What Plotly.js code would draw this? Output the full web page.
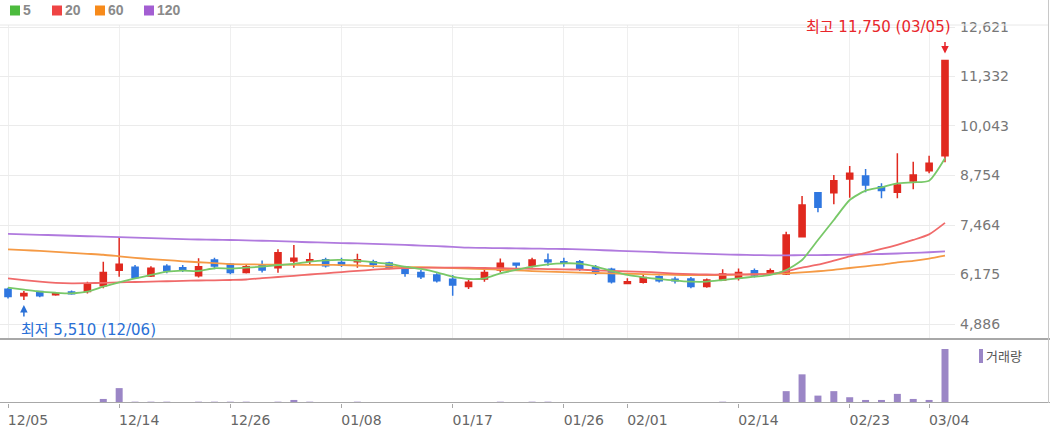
<!DOCTYPE html>
<html><head><meta charset="utf-8">
<script src="https://cdn.plot.ly/plotly-3.0.1.min.js"></script>
<style>html,body{margin:0;padding:0;background:#fff;}#chart{width:1050px;height:434px;}</style>
</head><body><div id="chart"></div>
<script>
const dates = ['12/05','12/06','12/07','12/08','12/11','12/12','12/13','12/14','12/15','12/18','12/19','12/20','12/21','12/22','12/26','12/27','12/28',
'01/02','01/03','01/04','01/05','01/08','01/09','01/10','01/11','01/12','01/15','01/16','01/17','01/18','01/19','01/22','01/23','01/24','01/25','01/26','01/29','01/30','01/31',
'02/01','02/02','02/05','02/06','02/07','02/08','02/13','02/14','02/15','02/16','02/19','02/20','02/21','02/22','02/23','02/26','02/27','02/28','02/29','03/04','03/05'];
const openP  = [5790,5625,5730,5650,5720,5730,5880,6285,6365,6135,6390,6350,6145,6555,6440,6225,6420,6350,6530,6520,6560,6485,6510,6510,6475,6380,6230,6165,6050,5860,6060,6293,6470,6405,6555,6510,6510,6355,6310,5940,5975,6120,6050,6060,5860,6030,6080,6275,6225,6190,7160,8307,8307,8663,8741,8463,8317,8611,8880,9270];
const highP  = [5830,5745,5740,5720,5760,5990,6510,7135,6420,6390,6440,6420,6600,6610,6470,6420,6540,6830,6944,6745,6610,6610,6715,6560,6510,6380,6290,6210,6165,6030,6320,6590,6470,6610,6720,6610,6555,6420,6350,6080,6165,6150,6120,6110,6070,6310,6330,6330,6330,7290,8220,8307,8767,9000,8923,8550,9332,9113,9270,11750];
const lowP   = [5550,5510,5580,5625,5650,5680,5820,6120,6060,6110,6210,6240,6095,6310,6180,6200,6230,6220,6350,6423,6360,6370,6350,6350,6310,6120,6060,5970,5625,5800,5985,6230,6340,6360,6405,6380,6270,6165,5940,5925,5940,5970,5940,5820,5830,6015,6020,6100,6165,6165,7145,7795,8005,8175,8317,8160,8160,8395,8810,9100];
const closeP = [5600,5680,5625,5680,5675,5920,6230,6440,6095,6340,6275,6310,6380,6400,6225,6380,6295,6745,6600,6560,6405,6425,6560,6440,6365,6210,6120,6010,5900,5975,6230,6470,6425,6555,6510,6470,6310,6250,5990,5990,6095,6010,6010,5860,6030,6190,6230,6165,6275,7205,7985,7925,8620,8810,8507,8360,8507,8767,9070,11750];
const ma5   = [5832,5780,5728,5700,5686,5728,5858,5973,6077,6163,6249,6275,6267,6338,6330,6353,6380,6423,6450,6510,6546,6554,6536,6494,6450,6380,6320,6233,6119,6059,6077,6207,6293,6380,6441,6467,6458,6380,6267,6163,6103,6059,6016,5990,5990,6033,6077,6119,6163,6293,6554,7074,7595,8116,8358,8447,8551,8577,8619,9202];
const ma20  = [6077,6030,5990,5960,5947,5950,5960,5973,5980,5990,6000,6010,6020,6025,6033,6045,6080,6110,6140,6175,6205,6240,6270,6300,6325,6340,6350,6355,6355,6353,6345,6340,6330,6325,6315,6310,6300,6285,6270,6255,6245,6225,6200,6185,6175,6175,6178,6182,6190,6260,6355,6430,6535,6645,6740,6840,6950,7075,7220,7520];
const ma60  = [6832,6810,6790,6765,6740,6715,6690,6650,6610,6575,6550,6520,6495,6470,6445,6440,6435,6432,6430,6428,6425,6422,6410,6395,6380,6370,6364,6355,6340,6330,6315,6300,6285,6265,6250,6235,6225,6215,6205,6195,6185,6175,6165,6160,6160,6165,6170,6180,6195,6207,6230,6260,6295,6345,6390,6435,6490,6530,6590,6665];
const ma120 = [7231,7220,7210,7198,7185,7172,7160,7148,7135,7122,7110,7098,7087,7080,7074,7065,7055,7045,7030,7015,7005,6995,6985,6972,6960,6945,6930,6915,6895,6874,6868,6862,6856,6850,6845,6840,6830,6815,6800,6785,6770,6755,6740,6725,6712,6700,6690,6682,6676,6675,6678,6682,6686,6692,6700,6710,6722,6738,6755,6780];
const volume = [20000,20000,20000,20000,20000,20000,400000,1470000,130000,130000,130000,20000,130000,130000,130000,130000,20000,130000,300000,130000,20000,20000,130000,20000,20000,20000,20000,20000,20000,20000,20000,130000,20000,130000,130000,20000,20000,20000,20000,20000,20000,20000,20000,20000,20000,130000,20000,20000,20000,1170000,2830000,730000,1170000,570000,300000,300000,900000,400000,300000,5330000];
const tickDates = ['12/05','12/14','12/26','01/08','01/17','01/26','02/01','02/14','02/23','03/04'];
const priceTicks = [4886,6175,7464,8754,10043,11332,12621];
const maNames = ['5','20','60','120'];
const maColors = ['#4cbb3d','#ef4444','#f78a1a','#a35ed2'];
const maLineColors = ['#78c868','#f06a6a','#f59a45','#b07ade'];
const highLabel = '최고 11,750 (03/05)';
const lowLabel = '최저 5,510 (12/06)';
const volLabel = '거래량';

const W = 955, B = 403, H = 378;
const px = x => x / W;
const py = y => (B - y) / H;
const FONT = "'Liberation Sans','Noto Sans CJK KR',sans-serif";
const TFONT = "'DejaVu Sans','Noto Sans CJK KR',sans-serif";
const UP = '#e0291f', DOWN = '#2f77e0';

const traces = [];
[ma120, ma60, ma20, ma5].forEach((arr, k) => {
  const i = 3 - k;
  traces.push({type:'scatter', mode:'lines', x:dates, y:arr, xaxis:'x', yaxis:'y',
    line:{color:maLineColors[i], width:1.8, shape:'spline', smoothing:0.6}, hoverinfo:'skip'});
});
traces.push({type:'candlestick', x:dates, open:openP, high:highP, low:lowP, close:closeP, xaxis:'x', yaxis:'y',
  increasing:{line:{color:UP, width:1.5}, fillcolor:UP},
  decreasing:{line:{color:DOWN, width:1.5}, fillcolor:DOWN}, whiskerwidth:0});
traces.push({type:'bar', x:dates, y:volume, xaxis:'x2', yaxis:'y2', marker:{color:'#9b86c6', line:{width:0}}});

const shapes = [
  {type:'line', xref:'paper', yref:'paper', x0:0, x1:px(1049), y0:py(25), y1:py(25), line:{color:'#e8e8e8', width:1}},
  {type:'line', xref:'paper', yref:'paper', x0:0, x1:px(1050), y0:py(339), y1:py(339), line:{color:'#a8a8a8', width:2}},
  {type:'line', xref:'paper', yref:'paper', x0:0, x1:px(1050), y0:py(402.5), y1:py(402.5), line:{color:'#a8a8a8', width:1}},
  {type:'line', xref:'paper', yref:'paper', x0:px(1048.5), x1:px(1048.5), y0:py(403), y1:py(0), line:{color:'#c8c8c8', width:1}},
  {type:'rect', xref:'paper', yref:'paper', x0:px(979), x1:px(983), y0:py(363), y1:py(349), fillcolor:'#9b86c6', line:{width:0}}
];
const legendX = [10, 52, 95, 144];
const annotations = [];
maNames.forEach((n, i) => {
  shapes.push({type:'rect', xref:'paper', yref:'paper', x0:px(legendX[i]), x1:px(legendX[i]+10), y0:py(15.5), y1:py(5.5), fillcolor:maColors[i], line:{width:0}});
  annotations.push({xref:'paper', yref:'paper', x:px(legendX[i]+11), y:py(10.5), xanchor:'left', yanchor:'middle', showarrow:false,
    text:'<b>'+n+'</b>', font:{family:FONT, size:14, color:'#8a8a8a'}});
});
annotations.push({xref:'paper', yref:'paper', x:px(984), y:py(356), xanchor:'left', yanchor:'middle', showarrow:false,
  text:volLabel, font:{family:FONT, size:13, color:'#555'}});
annotations.push({xref:'x', yref:'y', x:'03/05', y:11750, xanchor:'right', yanchor:'bottom', xshift:8, yshift:22, showarrow:false,
  text:highLabel, font:{family:TFONT, size:15, color:'#e8262b'}});
annotations.push({xref:'x', yref:'y', x:'03/05', y:11750, text:'', showarrow:true, arrowhead:2, arrowsize:1, arrowwidth:1.5,
  arrowcolor:'#e8262b', ax:0, ay:-20, standoff:7});
annotations.push({xref:'x', yref:'y', x:'12/06', y:5510, xanchor:'left', yanchor:'top', xshift:-5, yshift:-19, showarrow:false,
  text:lowLabel, font:{family:TFONT, size:15, color:'#2a70d6'}});
annotations.push({xref:'x', yref:'y', x:'12/06', y:5510, text:'', showarrow:true, arrowhead:2, arrowsize:1, arrowwidth:1.5,
  arrowcolor:'#2a70d6', ax:0, ay:18, standoff:5});

const xr = [-0.504, 59.63];
const layout = {
  width:1050, height:434, margin:{l:0, r:95, t:25, b:31}, paper_bgcolor:'#fff', plot_bgcolor:'#fff',
  showlegend:false, hovermode:false, boxgap:0.45, boxgroupgap:0.3, bargap:0.56,
  font:{family:FONT},
  xaxis:{type:'category', categoryorder:'array', categoryarray:dates, range:xr, anchor:'y', domain:[0,1],
    tickvals:tickDates, showticklabels:false, ticks:'', showgrid:true, gridcolor:'#efefef', gridwidth:1,
    zeroline:false, showline:false, rangeslider:{visible:false}},
  xaxis2:{type:'category', categoryorder:'array', categoryarray:dates, range:xr, anchor:'y2', domain:[0,1],
    tickvals:tickDates, ticks:'outside', ticklen:4, tickcolor:'#a8a8a8', tickwidth:1, showgrid:false,
    zeroline:false, showline:false, ticklabelshift:20, tickfont:{family:TFONT, size:14, color:'#666'}, rangeslider:{visible:false}},
  yaxis:{domain:[py(338),1], range:[4522,12673], side:'right', anchor:'x', tickvals:priceTicks, tickformat:',d',
    gridcolor:'#ebebeb', showline:false, zeroline:false, ticks:'', ticklabelstandoff:4, tickfont:{family:TFONT, size:14, color:'#777'}},
  yaxis2:{domain:[0,py(340)], range:[0,6220000], anchor:'x2', showticklabels:false, showgrid:false, zeroline:false, showline:false},
  shapes:shapes, annotations:annotations
};
Plotly.newPlot('chart', traces, layout, {staticPlot:true, displayModeBar:false});
</script></body></html>
